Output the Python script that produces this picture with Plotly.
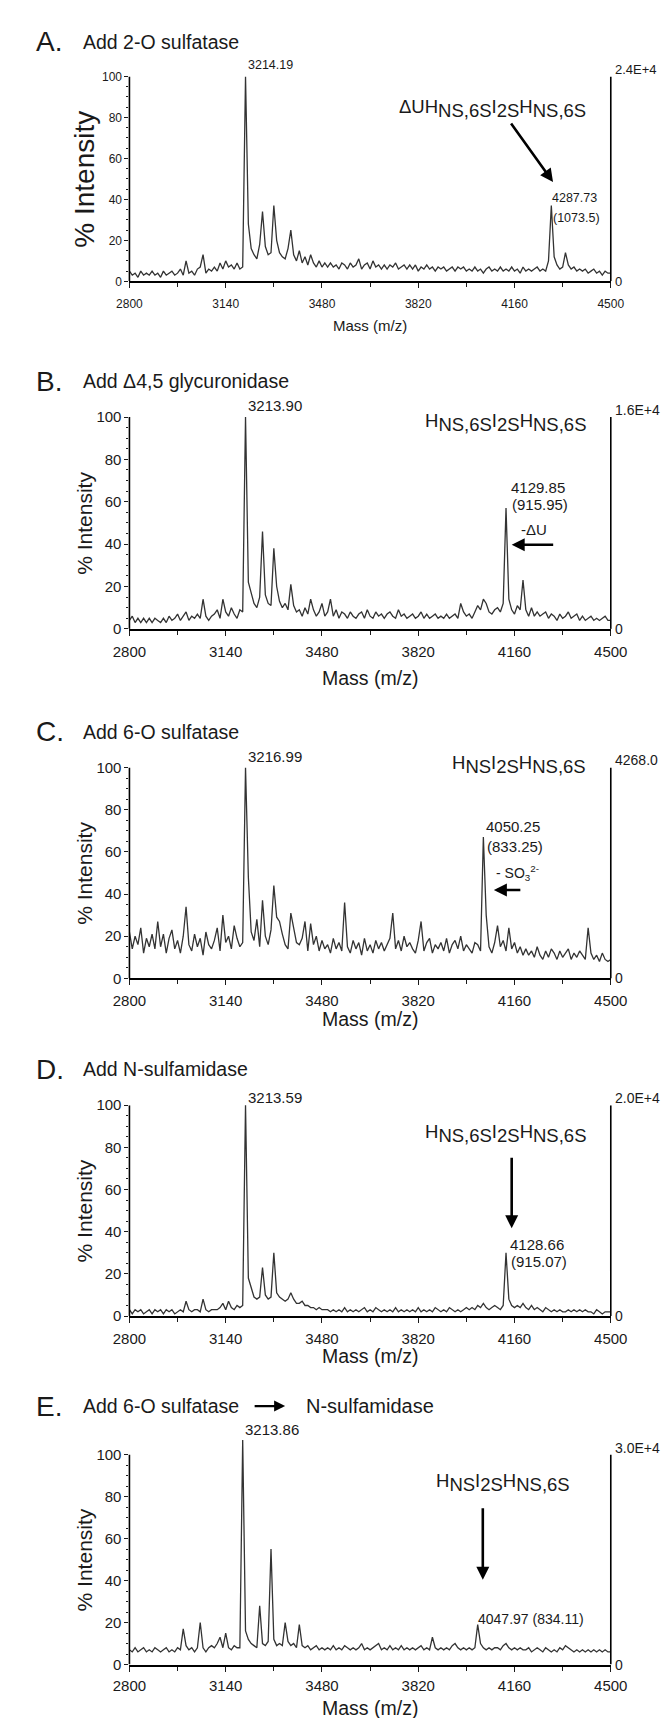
import plotly.graph_objects as go

W, H = 672, 1718

# ---------------- data ----------------
mass = list(range(2800, 4501, 10))  # m/z sample positions (10 Da steps)

intensity_A = [
    5, 3, 4, 2, 5, 3, 4, 3, 5, 3,
    4, 2, 5, 3, 4, 5, 3, 4, 6, 3,
    10, 4, 5, 3, 6, 7, 13, 4, 6, 5,
    7, 5, 9, 6, 10, 7, 8, 6, 9, 6,
    7, 100, 28, 16, 13, 11, 18, 34, 17, 13,
    14, 37, 20, 14, 12, 11, 16, 25, 13, 10,
    15, 9, 12, 8, 13, 9, 7, 10, 7, 9,
    7, 9, 7, 8, 6, 9, 8, 6, 9, 7,
    8, 11, 6, 8, 9, 6, 10, 7, 8, 6,
    8, 6, 8, 7, 9, 6, 7, 8, 6, 8,
    6, 8, 5, 7, 6, 8, 6, 7, 5, 7,
    6, 7, 5, 6, 7, 5, 7, 6, 7, 5,
    6, 5, 7, 5, 6, 4, 6, 7, 5, 6,
    5, 7, 5, 6, 5, 7, 5, 6, 4, 7,
    5, 6, 5, 6, 7, 5, 6, 5, 10, 37,
    12, 8, 6, 7, 14, 8, 6, 7, 5, 6,
    5, 6, 4, 5, 6, 4, 5, 3, 5, 4,
    4,
]

intensity_B = [
    4, 6, 3, 5, 3, 5, 3, 5, 3, 5,
    4, 3, 5, 3, 6, 4, 5, 7, 4, 6,
    8, 4, 6, 5, 7, 5, 14, 6, 4, 6,
    7, 9, 5, 14, 8, 6, 10, 7, 5, 9,
    8, 100, 22, 17, 12, 10, 15, 46, 16, 12,
    11, 38, 20, 13, 10, 12, 9, 21, 11, 8,
    9, 6, 10, 7, 14, 9, 6, 8, 12, 6,
    8, 14, 6, 9, 5, 8, 7, 5, 8, 6,
    5, 7, 8, 5, 9, 6, 5, 8, 6, 7,
    5, 7, 8, 6, 5, 9, 6, 7, 5, 6,
    7, 5, 6, 8, 5, 7, 5, 6, 7, 5,
    6, 5, 7, 5, 6, 7, 5, 12, 8, 6,
    7, 5, 8, 11, 9, 14, 12, 8, 7, 9,
    10, 8, 12, 57, 14, 9, 7, 11, 9, 23,
    9, 6, 10, 6, 8, 6, 7, 8, 5, 7,
    6, 4, 7, 5, 6, 8, 5, 6, 7, 4,
    6, 4, 5, 6, 4, 5, 4, 5, 6, 4,
    4,
]

intensity_C = [
    22, 14, 20, 16, 24, 12, 19, 15, 21, 14,
    27, 15, 21, 12, 19, 23, 14, 18, 12, 20,
    34, 16, 13, 21, 15, 19, 11, 22, 16, 14,
    18, 24, 13, 30, 17, 20, 14, 25, 19, 15,
    17, 100, 48, 22, 18, 28, 15, 37, 20, 16,
    23, 44, 29, 27, 21, 16, 14, 31, 24, 17,
    16, 19, 27, 13, 26, 16, 20, 13, 18, 14,
    16, 12, 19, 14, 17, 13, 36, 15, 12, 18,
    14, 17, 11, 19, 13, 16, 12, 18, 14, 17,
    13, 16, 19, 31, 14, 18, 13, 20, 15, 17,
    14, 12, 18, 27, 13, 17, 19, 12, 16, 14,
    17, 13, 19, 12, 16, 18, 14, 20, 13, 16,
    14, 12, 17, 16, 13, 67, 30, 15, 12, 17,
    25, 15, 18, 13, 24, 14, 17, 12, 15, 11,
    14, 11, 13, 10, 15, 11, 9, 13, 10, 14,
    12, 9, 13, 10, 12, 14, 9, 12, 10, 13,
    11, 9, 24, 12, 9, 11, 8, 12, 9, 8,
    9,
]

intensity_D = [
    3, 1, 3, 2, 3, 1, 2, 3, 1, 3,
    2, 3, 1, 3, 2, 3, 1, 2, 3, 2,
    7, 3, 2, 3, 3, 2, 8, 3, 2, 3,
    3, 3, 4, 6, 3, 7, 4, 3, 5, 4,
    5, 100, 18, 13, 9, 8, 9, 23, 10, 8,
    9, 30, 11, 9, 8, 7, 8, 11, 8, 6,
    6, 7, 5, 5, 4, 4, 3, 4, 3, 3,
    3, 2, 3, 2, 3, 2, 4, 2, 3, 2,
    3, 2, 3, 4, 2, 3, 2, 4, 3, 2,
    3, 2, 3, 2, 4, 2, 3, 2, 3, 2,
    3, 2, 4, 2, 3, 2, 3, 2, 4, 3,
    2, 3, 2, 4, 3, 2, 3, 2, 3, 4,
    3, 4, 3, 5, 4, 6, 4, 3, 4, 5,
    4, 3, 5, 30, 8, 5, 4, 5, 4, 6,
    4, 3, 5, 3, 4, 3, 2, 4, 3, 2,
    3, 2, 3, 2, 2, 3, 2, 3, 2, 3,
    2, 3, 2, 2, 1, 3, 2, 1, 2, 2,
    2,
]

intensity_E = [
    7, 6, 8, 6, 7, 8, 6, 7, 6, 8,
    7, 6, 7, 8, 6, 7, 6, 8, 7, 17,
    9, 7, 8, 6, 8, 20, 8, 6, 8, 9,
    8, 10, 13, 8, 15, 8, 7, 9, 8, 8,
    107, 16, 12, 10, 9, 8, 28, 10, 9, 11,
    55, 12, 9, 10, 9, 20, 11, 9, 10, 8,
    19, 9, 8, 9, 7, 8, 9, 7, 8, 7,
    8, 7, 9, 7, 8, 7, 9, 8, 7, 8,
    7, 8, 10, 7, 8, 7, 8, 9, 10, 7,
    8, 7, 9, 7, 8, 7, 9, 7, 8, 7,
    8, 7, 8, 9, 7, 8, 7, 13, 8, 7,
    8, 7, 8, 7, 9, 10, 8, 7, 8, 7,
    8, 7, 8, 19, 10, 8, 7, 8, 7, 8,
    8, 7, 9, 10, 8, 7, 8, 7, 8, 7,
    7, 8, 6, 7, 8, 7, 6, 8, 7, 6,
    7, 6, 8, 7, 9, 8, 7, 6, 7, 6,
    7, 6, 7, 6, 7, 6, 7, 6, 7, 6,
    6,
]

x_tick_vals = [2800, 3140, 3480, 3820, 4160, 4500]
x_minor_vals = [2970, 3310, 3650, 3990, 4330]
y_tick_vals = [0, 20, 40, 60, 80, 100]
y_minor_vals = [5, 10, 15, 25, 30, 35, 45, 50, 55, 65, 70, 75, 85, 90, 95]

panel_letters = ["A.", "B.", "C.", "D.", "E."]
panel_titles = ["Add 2-O sulfatase", "Add \u03944,5 glycuronidase", "Add 6-O sulfatase",
                "Add N-sulfamidase", "Add 6-O sulfatase"]
scale_top_labels = ["2.4E+4", "1.6E+4", "4268.0", "2.0E+4", "3.0E+4"]
main_peak_labels = ["3214.19", "3213.90", "3216.99", "3213.59", "3213.86"]
second_peak_labels = ["4287.73", "4129.85", "4050.25", "4128.66", "4047.97 (834.11)"]
second_peak_charge = ["(1073.5)", "(915.95)", "(833.25)", "(915.07)", ""]


def sub(s):
    return "<sub><span style='font-size:143%'>" + s + "</span></sub>"


structures = [
    "\u0394UH" + sub("NS,6S") + "I" + sub("2S") + "H" + sub("NS,6S"),
    "H" + sub("NS,6S") + "I" + sub("2S") + "H" + sub("NS,6S"),
    "H" + sub("NS") + "I" + sub("2S") + "H" + sub("NS,6S"),
    "H" + sub("NS,6S") + "I" + sub("2S") + "H" + sub("NS,6S"),
    "H" + sub("NS") + "I" + sub("2S") + "H" + sub("NS,6S"),
]

spectra = [intensity_A, intensity_B, intensity_C, intensity_D, intensity_E]

# ---------------- layout geometry (pixels) ----------------
FONT = "Liberation Sans, Arial, Helvetica, sans-serif"
INK = "#1a1a1a"
LINE = "#333333"
X_LEFT, X_RIGHT = 110, 617

geom = [
    dict(title_y=25, top=60, bottom=267, ymax=100, mass_y=312, tick=12, ytick=12,
         ytitle=28, xtitle=15, standoff=5, struct=(593, 92), lab=12.5, rlab=13,
         main_dy=11, sec_dy=(8, -12), sec_dx=-1),
    dict(title_y=368, top=404, bottom=618, ymax=100, mass_y=668, tick=15, ytick=15,
         ytitle=21, xtitle=19.5, standoff=3, struct=(593, 410), lab=15, rlab=14,
         main_dy=12, sec_dy=(21, 4), sec_dx=3),
    dict(title_y=722, top=758, bottom=971, ymax=100, mass_y=1012, tick=15, ytick=15,
         ytitle=21, xtitle=19.5, standoff=3, struct=(593, 755), lab=15, rlab=14,
         main_dy=11, sec_dy=(11, -9), sec_dx=1),
    dict(title_y=1063, top=1099, bottom=1312, ymax=100, mass_y=1352, tick=15, ytick=15,
         ytitle=21, xtitle=19.5, standoff=3, struct=(593, 1128), lab=15, rlab=14,
         main_dy=8, sec_dy=(8, -9), sec_dx=2),
    dict(title_y=1403, top=1452, bottom=1664, ymax=108, mass_y=1708, tick=15, ytick=15,
         ytitle=21, xtitle=19.5, standoff=1, struct=(576, 1480), lab=15, rlab=14,
         main_dy=10, sec_dy=(6, 0), sec_dx=-2),
]


def px_x(p):
    return p / W


def px_y(p):
    return 1 - p / H


fig = go.Figure()
annotations = []
shapes = []
layout = {}

for i, (ys, g) in enumerate(zip(spectra, geom)):
    n = i + 1
    xa = "x" if n == 1 else f"x{n}"
    ya = "y" if n == 1 else f"y{n}"
    fig.add_trace(go.Scatter(x=mass, y=ys, mode="lines", xaxis=xa, yaxis=ya,
                             line=dict(color=LINE, width=1.3), hoverinfo="skip",
                             showlegend=False))
    unit = (g["bottom"] - g["top"]) / 100.0
    top_px = g["bottom"] - g["ymax"] * unit
    layout["xaxis" if n == 1 else f"xaxis{n}"] = dict(
        domain=[px_x(X_LEFT), px_x(X_RIGHT)], range=[2800, 4500], anchor=ya,
        tickmode="array", tickvals=x_tick_vals, ticks="outside", ticklen=5,
        tickwidth=1, tickcolor=INK,
        minor=dict(tickvals=x_minor_vals, ticks="outside", ticklen=4, tickcolor=INK),
        showline=True, linewidth=2, linecolor="black", showgrid=False, zeroline=False,
        tickfont=dict(family=FONT, size=g["tick"], color=INK),
        ticklabelstandoff=g["standoff"], fixedrange=True,
    )
    layout["yaxis" if n == 1 else f"yaxis{n}"] = dict(
        domain=[px_y(g["bottom"]), px_y(top_px)], range=[0, g["ymax"]], anchor=xa,
        tickmode="array", tickvals=y_tick_vals, ticks="outside", ticklen=4,
        tickwidth=1, tickcolor=INK,
        minor=dict(tickvals=y_minor_vals, ticks="outside", ticklen=2.5, tickcolor=INK),
        showline=False, showgrid=False, zeroline=False,
        tickfont=dict(family=FONT, size=g["ytick"], color=INK), fixedrange=True,
    )
    # left and right vertical axis lines (0 .. 100 %)
    for xd in (0, 1):
        shapes.append(dict(type="line", xref=f"{xa} domain", yref=ya, x0=xd, x1=xd,
                           y0=0, y1=100, line=dict(color="black", width=1.6)))
    # panel letter + title
    annotations.append(dict(text=panel_letters[i], xref="paper", yref="paper",
                            x=px_x(10), y=px_y(g["title_y"]), xanchor="left",
                            yanchor="middle", showarrow=False,
                            font=dict(family=FONT, size=28, color=INK)))
    annotations.append(dict(text=panel_titles[i], xref="paper", yref="paper",
                            x=px_x(59), y=px_y(g["title_y"]), xanchor="left",
                            yanchor="middle", showarrow=False,
                            font=dict(family=FONT, size=19.5, color=INK)))
    # axis titles
    annotations.append(dict(text="% Intensity", xref="paper", yref=f"{ya} domain",
                            x=px_x(63), y=(50 / g["ymax"]), xanchor="center",
                            yanchor="middle", textangle=-90, showarrow=False,
                            font=dict(family=FONT, size=g["ytitle"], color=INK)))
    annotations.append(dict(text="Mass (m/z)", xref=f"{xa} domain", yref="paper",
                            x=0.5, y=px_y(g["mass_y"]), xanchor="center",
                            yanchor="middle", showarrow=False,
                            font=dict(family=FONT, size=g["xtitle"], color=INK)))
    # right-hand absolute scale
    annotations.append(dict(text=scale_top_labels[i], xref=f"{xa} domain", yref=ya,
                            x=1, y=100, xanchor="left", yanchor="bottom", xshift=2,
                            yshift=-3, showarrow=False,
                            font=dict(family=FONT, size=g["rlab"], color=INK)))
    annotations.append(dict(text="0", xref=f"{xa} domain", yref=ya,
                            x=1, y=0, xanchor="left", yanchor="middle", xshift=2,
                            showarrow=False,
                            font=dict(family=FONT, size=g["rlab"], color=INK)))
    # peak labels (anchored on the data maxima)
    k_main = max(range(len(ys)), key=lambda k: ys[k])
    k_sec = max(range(len(ys)), key=lambda k: ys[k] if mass[k] > 3900 else -1)
    annotations.append(dict(text=main_peak_labels[i], xref=xa, yref=ya,
                            x=mass[k_main], y=ys[k_main], xanchor="left",
                            yanchor="middle", yshift=g["main_dy"], xshift=0,
                            showarrow=False,
                            font=dict(family=FONT, size=g["lab"], color=INK)))
    annotations.append(dict(text=second_peak_labels[i], xref=xa, yref=ya,
                            x=mass[k_sec], y=ys[k_sec], xanchor="left",
                            yanchor="middle", xshift=g["sec_dx"], yshift=g["sec_dy"][0],
                            showarrow=False,
                            font=dict(family=FONT, size=g["lab"] - (1 if n == 5 else 0),
                                      color=INK)))
    if second_peak_charge[i]:
        annotations.append(dict(text=second_peak_charge[i], xref=xa, yref=ya,
                                x=mass[k_sec], y=ys[k_sec], xanchor="left",
                                yanchor="middle", xshift=g["sec_dx"] + 1,
                                yshift=g["sec_dy"][1], showarrow=False,
                                font=dict(family=FONT, size=g["lab"], color=INK)))
    # structure label
    sx, sy = g["struct"]
    annotations.append(dict(text=structures[i], xref="paper", yref="paper",
                            x=px_x(sx), y=px_y(sy), xanchor="right", yanchor="middle",
                            showarrow=False,
                            font=dict(family=FONT, size=18.5, color=INK)))

# arrows and side notes
annotations += [
    # A: diagonal arrow to the 4287.73 peak
    dict(xref="x", yref="y", x=4296, y=48.5, ax=-43, ay=-60, text="", showarrow=True,
         arrowhead=2, arrowsize=1, arrowwidth=2.6, arrowcolor="black"),
    # B: -ΔU
    dict(xref="x2", yref="y2", x=4150, y=39.7, ax=43, ay=0, text="", showarrow=True,
         arrowhead=2, arrowsize=1, arrowwidth=2.6, arrowcolor="black"),
    dict(xref="x2", yref="y2", x=4175, y=46.7, text="-\u0394U", xanchor="left",
         yanchor="middle", showarrow=False, font=dict(family=FONT, size=15, color=INK)),
    # C: - SO3 2-
    dict(xref="x3", yref="y3", x=4087, y=41.9, ax=28, ay=0, text="", showarrow=True,
         arrowhead=2, arrowsize=1, arrowwidth=2.6, arrowcolor="black"),
    dict(xref="x3", yref="y3", x=4087, y=49.8, text="- SO<sub>3</sub><sup>2-</sup>",
         xanchor="left", yanchor="middle", showarrow=False,
         font=dict(family=FONT, size=14, color=INK)),
    # D: vertical arrow
    dict(xref="x4", yref="y4", x=4150, y=41.6, ax=0, ay=-72, text="", showarrow=True,
         arrowhead=2, arrowsize=1, arrowwidth=2.6, arrowcolor="black"),
    # E: vertical arrow
    dict(xref="x5", yref="y5", x=4048, y=40.4, ax=0, ay=-73, text="", showarrow=True,
         arrowhead=2, arrowsize=1, arrowwidth=2.6, arrowcolor="black"),
    # E title arrow and second enzyme
    dict(xref="paper", yref="paper", x=px_x(274), y=px_y(1403), ax=-32, ay=0, text="",
         showarrow=True, arrowhead=2, arrowsize=1, arrowwidth=2.2, arrowcolor="black"),
    dict(xref="paper", yref="paper", x=px_x(294), y=px_y(1403), text="N-sulfamidase",
         xanchor="left", yanchor="middle", showarrow=False,
         font=dict(family=FONT, size=20, color=INK)),
]

fig.update_layout(
    width=W, height=H, margin=dict(l=0, r=0, t=0, b=0),
    paper_bgcolor="white", plot_bgcolor="white",
    annotations=annotations, shapes=shapes, showlegend=False,
    **layout,
)

fig.write_html("out.html", config={"displayModeBar": False})
